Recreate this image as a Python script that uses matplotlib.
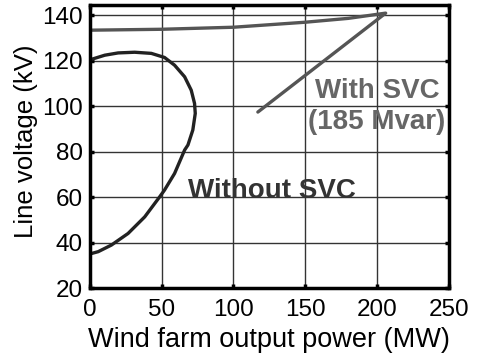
import matplotlib
matplotlib.use("Agg")
import matplotlib.pyplot as plt

plt.rcParams['font.family'] = ['Liberation Sans', 'DejaVu Sans']

# P-V curve without compensation (MW, kV), traced around the nose
p_without = [0.7, 10.4, 19.7, 31.2, 42.8, 52, 59, 66, 70.6, 72.9, 73.4, 71.7,
             68.3, 66, 59, 52, 48.6, 38.2, 26.6, 15, 5.8, 0]
v_without = [120.5, 122.4, 123.4, 123.7, 123.2, 121.4, 118, 112.9, 107, 101.2, 96.8, 89.5,
             82.9, 80.7, 70.4, 63.1, 60.1, 51.3, 44, 38.9, 36, 35]

# P-V curve with a 185 Mvar SVC
p_svc = [0, 50, 100, 150, 180, 206, 117]
v_svc = [133.4, 133.8, 134.7, 136.9, 138.6, 140.9, 97.4]

xticks = [0, 50, 100, 150, 200, 250]
yticks = [20, 40, 60, 80, 100, 120, 140]

fig = plt.figure(figsize=(4.78, 3.53), dpi=100)
ax = fig.add_axes([0.188, 0.184, 0.751, 0.802])

ax.plot(p_without, v_without, color='#222222', lw=2.4, solid_capstyle='round',
        solid_joinstyle='round')
ax.plot(p_svc, v_svc, color='#555555', lw=2.4, solid_capstyle='round',
        solid_joinstyle='round')

ax.set_xlim(0, 250)
ax.set_ylim(20, 144.5)
ax.set_xticks(xticks)
ax.set_yticks(yticks)
ax.grid(True, color='#333333', lw=1)
ax.set_axisbelow(True)
for s in ax.spines.values():
    s.set_linewidth(2.5)
ax.tick_params(direction='in', top=True, right=True, length=3, width=2.5,
               labelsize=17.5)
ax.tick_params(axis='y', pad=5)
ax.tick_params(axis='x', pad=8)

ax.set_xlabel('Wind farm output power (MW)', fontsize=19.5, labelpad=4)
ax.set_ylabel('Line voltage (kV)', fontsize=18.5)
ax.yaxis.set_label_coords(-0.145, 0.52)

ax.text(68, 62.5, 'Without SVC', fontsize=20, fontweight='bold', color='#333333',
        ha='left', va='center')
ax.text(200, 100, 'With SVC\n(185 Mvar)', fontsize=20, fontweight='bold',
        color='#666666', ha='center', va='center', linespacing=1.25)

fig.savefig('out.png', dpi=100)
